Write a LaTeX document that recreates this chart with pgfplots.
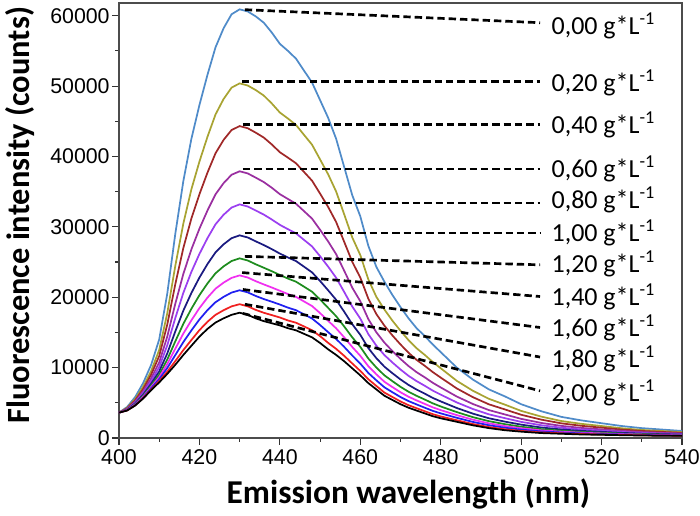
\documentclass[border=0pt]{standalone}
\usepackage{fontspec}
\setmainfont{Carlito}
\newfontfamily\tickfont{Liberation Sans}
\usepackage{pgfplots}
\usepackage{pgfplotstable}
\pgfplotsset{compat=1.18}

\definecolor{k000}{HTML}{4F8BC9}
\definecolor{k020}{HTML}{A8A332}
\definecolor{k040}{HTML}{A02828}
\definecolor{k060}{HTML}{9A2FA0}
\definecolor{k080}{HTML}{9B3FF0}
\definecolor{k100}{HTML}{1A1A80}
\definecolor{k120}{HTML}{1E8C1E}
\definecolor{k140}{HTML}{F030F0}
\definecolor{k160}{HTML}{2020F0}
\definecolor{k180}{HTML}{F02020}
\definecolor{k200}{HTML}{000000}

\pgfplotstableread{
nm c000 c020 c040 c060 c080 c100 c120 c140 c160 c180 c200
400 3600 3600 3600 3600 3600 3600 3600 3600 3600 3600 3600
402 4400 4280 4210 4130 4080 4030 3990 3960 3940 3910 3900
404 5800 5510 5340 5160 5030 4910 4810 4750 4690 4630 4600
406 7800 7260 6950 6630 6390 6160 5990 5870 5760 5660 5600
408 10400 9520 9010 8480 8090 7720 7440 7240 7070 6900 6800
410 14000 12510 11650 10740 10080 9460 8990 8650 8350 8070 7900
412 20500 17720 16110 14410 13170 12010 11140 10500 9940 9420 9100
414 29000 24460 21840 19070 17040 15140 13730 12690 11780 10920 10400
416 36500 30470 26990 23310 20620 18100 16220 14840 13630 12490 11800
418 42500 35330 31180 26800 23600 20600 18360 16720 15280 13920 13100
420 47300 39270 34630 29730 26150 22790 20290 18450 16840 15320 14400
422 51600 42790 37700 32320 28390 24710 21960 19940 18170 16510 15500
424 55500 45960 40450 34620 30360 26370 23400 21210 19290 17500 16400
426 58200 48150 42340 36200 31710 27510 24380 22070 20050 18150 17000
428 60200 49780 43760 37400 32740 28390 25140 22750 20660 18700 17500
430 60900 50380 44310 37890 33190 28790 25520 23100 20990 19010 17800
432 60600 50080 44010 37590 32890 28490 25220 22800 20690 18710 17500
434 59900 49430 43380 36990 32320 27940 24680 22280 20180 18200 17000
436 59000 48650 42680 36360 31740 27410 24190 21820 19740 17790 16600
438 57600 47520 41700 35550 31040 26830 23690 21380 19360 17460 16300
440 56000 46240 40600 34640 30280 26200 23160 20920 18960 17120 16000
442 55000 45390 39830 33960 29670 25650 22650 20450 18520 16700 15600
444 53900 44480 39040 33290 29080 25140 22210 20050 18160 16380 15300
446 52200 43070 37800 32230 28150 24340 21500 19400 17570 15850 14800
448 50500 41670 36560 31170 27220 23530 20780 18750 16980 15310 14300
450 48000 39580 34720 29580 25820 22300 19680 17740 16050 14470 13500
452 45500 37470 32830 27930 24350 20990 18490 16650 15040 13520 12600
454 42500 35010 30680 26110 22760 19630 17300 15580 14070 12660 11800
456 38500 31770 27870 23760 20750 17940 15840 14300 12940 11670 10900
458 34500 28500 25030 21360 18680 16170 14300 12930 11720 10590 9900
460 31500 25990 22800 19430 16970 14660 12950 11680 10570 9530 8900
462 27300 22540 19790 16890 14760 12770 11290 10200 9240 8350 7800
464 24300 20050 17600 15010 13110 11340 10010 9040 8190 7390 6900
466 22200 18250 15960 13550 11780 10130 8900 7990 7200 6450 6000
468 20300 16660 14560 12340 10720 9200 8070 7230 6500 5820 5400
470 18600 15230 13290 11230 9730 8320 7270 6500 5820 5190 4800
472 17000 13900 12110 10220 8830 7540 6570 5860 5240 4660 4300
474 15600 12750 11100 9350 8080 6880 5990 5340 4770 4230 3900
476 14500 11820 10270 8630 7430 6310 5470 4850 4310 3810 3500
478 13300 10810 9370 7850 6740 5700 4930 4360 3860 3390 3100
480 12200 9910 8580 7180 6160 5200 4480 3960 3500 3060 2800
484 10000 8120 7040 5890 5050 4260 3680 3250 2870 2520 2300
488 8300 6710 5800 4830 4120 3460 2960 2600 2280 1980 1800
492 6900 5560 4780 3960 3360 2800 2390 2080 1810 1550 1400
496 5900 4730 4050 3340 2810 2320 1960 1690 1460 1230 1100
500 4800 3850 3300 2720 2290 1900 1600 1380 1190 1010 900
505 3800 3040 2610 2140 1810 1490 1260 1080 930 790 700
510 3000 2410 2080 1720 1460 1210 1030 900 780 670 600
515 2500 2010 1730 1430 1210 1010 860 750 650 560 500
520 2100 1700 1470 1220 1040 870 750 650 570 500 450
525 1700 1380 1200 1010 860 730 630 560 500 440 400
530 1400 1140 1000 840 720 620 540 480 430 380 350
535 1200 990 860 730 630 540 480 430 390 350 320
540 1000 830 730 630 550 480 430 390 350 320 300
}\spectra

\pgfplotsset{
  spec/.style={line width=1.3pt, mark=none, solid},
  leader/.style={black, line width=2pt, mark=none, dash pattern=on 5.5pt off 3pt},
}

\begin{document}
\begin{tikzpicture}
\begin{axis}[
  scale only axis,
  width=422.25pt, height=326.25pt,
  xmin=400, xmax=540, ymin=0, ymax=61800,
  xtick={400,420,...,540},
  ytick={0,10000,...,60000},
  minor x tick num=1, minor y tick num=1,
  tick align=outside, tick pos=left,
  major tick length=5pt, minor tick length=2.8pt,
  axis line style={draw=black!70, line width=1pt},
  every tick/.style={black!80, line width=0.8pt},
  ticklabel style={font=\tickfont\fontsize{16}{16}\selectfont},
  yticklabel style={xshift=1.5pt},
  /pgf/number format/assume math mode=true,
  /pgf/number format/1000 sep={},
  scaled y ticks=false,
  xlabel={Emission wavelength (nm)},
  ylabel={Fluorescence intensity (counts)},
  xlabel style={font=\bfseries\fontsize{25}{25}\selectfont, at={(axis description cs:0.5,0)}, anchor=north, inner sep=0pt, yshift=-30pt, xshift=6pt},
  ylabel style={font=\bfseries\fontsize{24.3}{24.3}\selectfont, at={(axis description cs:0,0.5)}, anchor=north, inner sep=0pt, yshift=85.5pt, xshift=4pt},
  clip=false,
]
\addplot[spec, k000] table[x=nm, y=c000] {\spectra};
\addplot[spec, k020] table[x=nm, y=c020] {\spectra};
\addplot[spec, k040] table[x=nm, y=c040] {\spectra};
\addplot[spec, k060] table[x=nm, y=c060] {\spectra};
\addplot[spec, k080] table[x=nm, y=c080] {\spectra};
\addplot[spec, k100] table[x=nm, y=c100] {\spectra};
\addplot[spec, k120] table[x=nm, y=c120] {\spectra};
\addplot[spec, k140] table[x=nm, y=c140] {\spectra};
\addplot[spec, k160] table[x=nm, y=c160] {\spectra};
\addplot[spec, k180] table[x=nm, y=c180] {\spectra};
\addplot[spec, k200] table[x=nm, y=c200] {\spectra};

\addplot[leader] coordinates {(431.3,60850) (504.7,59000)};
\addplot[leader] coordinates {(430.6,50600) (504.7,50600)};
\addplot[leader] coordinates {(430.8,44500) (504.7,44500)};
\addplot[leader] coordinates {(430.8,38200) (504.7,38200)};
\addplot[leader] coordinates {(430.8,33400) (504.7,33400)};
\addplot[leader] coordinates {(431.3,29100) (504.7,29100)};
\addplot[leader] coordinates {(431.3,25800) (504.7,24600)};
\addplot[leader] coordinates {(430.6,23500) (504.7,20100)};
\addplot[leader] coordinates {(430.8,21100) (504.7,15700)};
\addplot[leader] coordinates {(431.3,19000) (504.7,11500)};
\addplot[leader] coordinates {(430.8,17700) (504.7,6700)};

\begin{scope}[every node/.style={anchor=west, inner sep=0pt, font=\fontsize{19.5}{19.5}\selectfont}]
\node at (axis cs:507.5,58600) {0,00 g*L\textsuperscript{-1}};
\node at (axis cs:507.5,50500) {0,20 g*L\textsuperscript{-1}};
\node at (axis cs:507.5,44500) {0,40 g*L\textsuperscript{-1}};
\node at (axis cs:507.5,38300) {0,60 g*L\textsuperscript{-1}};
\node at (axis cs:507.5,33800) {0,80 g*L\textsuperscript{-1}};
\node at (axis cs:507.5,29100) {1,00 g*L\textsuperscript{-1}};
\node at (axis cs:507.5,24800) {1,20 g*L\textsuperscript{-1}};
\node at (axis cs:507.5,20000) {1,40 g*L\textsuperscript{-1}};
\node at (axis cs:507.5,15600) {1,60 g*L\textsuperscript{-1}};
\node at (axis cs:507.5,11300) {1,80 g*L\textsuperscript{-1}};
\node at (axis cs:507.5,6400) {2,00 g*L\textsuperscript{-1}};
\end{scope}
\end{axis}
\pgfresetboundingbox
\path[use as bounding box] ([xshift=-89.25pt,yshift=-58.5pt]current axis.south west) rectangle ([xshift=13.5pt,yshift=2.25pt]current axis.north east);
\end{tikzpicture}
\end{document}
